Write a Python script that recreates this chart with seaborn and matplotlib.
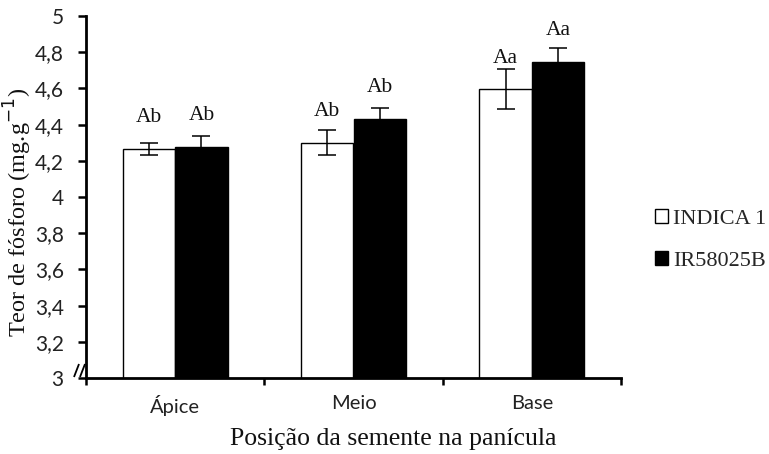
import matplotlib
matplotlib.use("Agg")
import matplotlib.pyplot as plt
import seaborn as sns
import pandas as pd

# Phosphorus content by seed position in the panicle
positions = ["Ápice", "Meio", "Base"]
cultivars = ["INDICA 1", "IR58025B"]
indica_mean = [4.265, 4.30, 4.595]
indica_err = [0.035, 0.07, 0.11]
ir_mean = [4.276, 4.43, 4.748]
ir_err = [0.06, 0.06, 0.075]
indica_letters = ["Ab", "Ab", "Aa"]
ir_letters = ["Ab", "Ab", "Aa"]
y_ticks = [3, 3.2, 3.4, 3.6, 3.8, 4, 4.2, 4.4, 4.6, 4.8, 5]

df = pd.DataFrame({
    "pos": positions * 2,
    "cult": [cultivars[0]] * 3 + [cultivars[1]] * 3,
    "val": indica_mean + ir_mean,
    "err": indica_err + ir_err,
    "lab": indica_letters + ir_letters,
})

sns.set_theme(style="white")
serif = ["Liberation Serif", "DejaVu Serif"]
sans = ["Lato", "DejaVu Sans"]

W, H = 769, 454
fig = plt.figure(figsize=(W / 100, H / 100), dpi=100)
ax = fig.add_axes([86 / W, 1 - 378 / H, (621 - 86) / W, (378 - 16) / H])

sns.barplot(data=df, x="pos", y="val", hue="cult", order=positions,
            hue_order=cultivars, palette={"INDICA 1": "white", "IR58025B": "black"},
            edgecolor="black", linewidth=1.0, width=0.59, gap=0, errorbar=None,
            ax=ax)

bars = [p for p in ax.patches if p.get_height() > 0][:6]
for bar, (_, row) in zip(bars, df.iterrows()):
    cx = bar.get_x() + bar.get_width() / 2
    ax.errorbar(cx, row["val"], yerr=row["err"], fmt="none", ecolor="black",
                elinewidth=1.1, capsize=6.5, capthick=1.1)
    ax.annotate(row["lab"], (cx, row["val"]), xytext=(0, 22.5),
                textcoords="offset points", ha="center", va="center",
                fontsize=15.5, family=serif, color="#111111")

ax.set_ylim(3, 5)
ax.set_xlim(-0.5, 2.5)
ax.set_yticks(y_ticks)
ax.set_yticklabels([f"{t:g}".replace(".", ",") for t in y_ticks],
                   family=sans, fontsize=15, color="#222222")
ax.set_xticks(range(3))
ax.set_xticklabels(positions, family=sans, fontsize=14.5, color="#222222")
ax.set_xticks([-0.5, 0.5, 1.5, 2.5], minor=True)
ax.tick_params(axis="x", which="major", length=0, pad=12)
ax.tick_params(axis="x", which="minor", length=5, width=1.8, direction="out",
               color="black", bottom=True)
ax.tick_params(axis="y", length=6, width=1.8, direction="out", color="black",
               left=True, pad=10)
for side in ["top", "right"]:
    ax.spines[side].set_visible(False)
for side in ["left", "bottom"]:
    ax.spines[side].set_color("black")
    ax.spines[side].set_linewidth(2.0)
ax.set_xlabel("")
ax.set_ylabel("")

# axis break marks at the bottom of the value axis
aw, ah = 621 - 86, 378 - 16
for x0 in (-12, -6):
    ax.plot([x0 / aw, (x0 + 5) / aw], [1 / ah, 14 / ah], transform=ax.transAxes,
            color="black", lw=1.3, clip_on=False, solid_capstyle="butt")

fig.text(393 / W, 1 - 439 / H, "Posição da semente na panícula",
         ha="center", va="center", fontsize=18.5, family=serif, color="#111111")
fig.text(18 / W, 1 - 212 / H, "Teor de fósforo (mg.g$^{-1}$)",
         ha="center", va="center", rotation=90, fontsize=17.5, family=serif,
         color="#111111")

handles, labels = ax.get_legend_handles_labels()
ax.legend(handles, labels, loc="center left", bbox_to_anchor=(655 / W, 1 - 240 / H),
          bbox_transform=fig.transFigure, frameon=False, prop={"family": serif, "size": 16},
          handlelength=0.6, handleheight=0.6, handletextpad=0.2, labelspacing=1.0,
          borderpad=0, borderaxespad=0)

fig.savefig("out.png", dpi=100, facecolor="white")
